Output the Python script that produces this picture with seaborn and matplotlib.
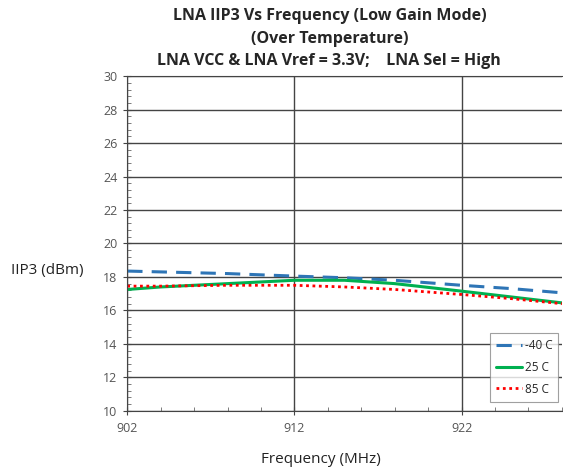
import pandas as pd
import seaborn as sns
import matplotlib.pyplot as plt
from matplotlib.ticker import MultipleLocator, FixedLocator

# data
freq_mhz = [902, 904, 908, 912, 915, 918, 922, 925, 928]
iip3_m40 = [18.35, 18.3, 18.2, 18.05, 17.95, 17.8, 17.5, 17.3, 17.05]
iip3_25 = [17.25, 17.4, 17.6, 17.8, 17.8, 17.6, 17.15, 16.8, 16.45]
iip3_85 = [17.45, 17.45, 17.5, 17.5, 17.4, 17.25, 16.95, 16.7, 16.4]
labels = ["-40 C", "25 C", "85 C"]
x_ticks = [902, 912, 922]

df = pd.DataFrame({"freq": freq_mhz, "-40 C": iip3_m40, "25 C": iip3_25, "85 C": iip3_85})

sns.set_style("white")
plt.rcParams["font.family"] = ["Open Sans", "DejaVu Sans"]

fig = plt.figure(figsize=(5.63, 4.70), dpi=100)
ax = fig.add_axes([0.226, 0.126, 0.772, 0.712])

styles = {
    "-40 C": dict(color="#2E75B6", linestyle=(0, (5, 3)), linewidth=2.2),
    "25 C": dict(color="#00B050", linestyle="-", linewidth=2.2),
    "85 C": dict(color="#FF0000", linestyle=(0, (1, 1.3)), linewidth=2.0),
}
for lab in labels:
    sns.lineplot(data=df, x="freq", y=lab, ax=ax, label=lab, **styles[lab])

ax.set_xlim(902, 928)
ax.set_ylim(10, 30)
ax.xaxis.set_major_locator(FixedLocator(x_ticks))
ax.xaxis.set_minor_locator(MultipleLocator(2))
ax.yaxis.set_major_locator(MultipleLocator(2))
ax.yaxis.set_minor_locator(MultipleLocator(0.4))
ax.grid(True, which="major", color="#444444", linewidth=1.0)
ax.tick_params(which="both", bottom=True, left=True)
ax.tick_params(which="major", direction="inout", length=6, color="#444444",
               labelsize=9, labelcolor="#555555", pad=4)
ax.tick_params(which="minor", direction="in", length=3, color="#666666")
ax.tick_params(axis="x", pad=5)
for side in ["left", "bottom", "top"]:
    ax.spines[side].set_color("#444444")
ax.spines["right"].set_visible(False)

ax.set_xlabel("")
ax.set_ylabel("")
fig.text(0.02, 0.425, "IIP3 (dBm)", fontsize=11, color="#222222", va="center", ha="left")
fig.text(0.57, 0.015, "Frequency (MHz)", fontsize=11, color="#222222", ha="center")

title_kw = dict(fontsize=11.5, fontweight="bold", ha="center", va="center")
fig.text(0.585, 0.965, "LNA IIP3 Vs Frequency (Low Gain Mode)", **title_kw)
fig.text(0.585, 0.918, "(Over Temperature)", **title_kw)
fig.text(0.585, 0.870, "LNA VCC & LNA Vref = 3.3V;    LNA Sel = High", **title_kw)

leg = ax.legend(loc="lower right", fontsize=8.5, frameon=True, fancybox=False,
                edgecolor="#888888", handlelength=2.2, borderpad=0.5, labelspacing=0.75,
                handletextpad=0.2, bbox_to_anchor=(1.005, 0.01))
leg.get_frame().set_linewidth(0.8)

fig.savefig("out.png", dpi=100)
